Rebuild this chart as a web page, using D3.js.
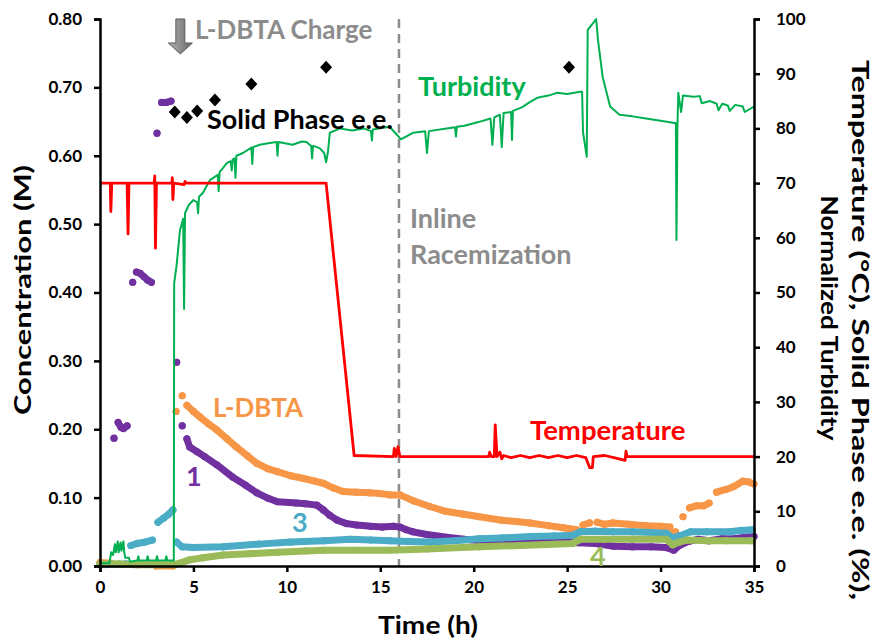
<!DOCTYPE html>
<html><head><meta charset="utf-8">
<script src="https://cdn.jsdelivr.net/npm/d3@7"></script>
<style>
body{margin:0;background:#fff;}
svg{display:block;font-family:Lato,"Open Sans",sans-serif;font-weight:bold;}
</style></head><body>
<svg id="c" width="881" height="641"></svg>
<script>
// ---------- DATA ----------
const xTicks = [0,5,10,15,20,25,30,35];
const yLeftTicks = [0,0.1,0.2,0.3,0.4,0.5,0.6,0.7,0.8];
const yRightTicks = [0,10,20,30,40,50,60,70,80,90,100];

// Solid phase e.e. (%) [time h, value]
const solidPhaseEE = [[4.0,83],[4.65,82],[5.2,83.2],[6.15,85.2],[8.1,88.1],[12.1,91.2],[25.1,91.2]];

// Temperature (°C)
const temperature = [[0,70],[0.55,70],[0.58,64.8],[0.63,70],[1.45,70],[1.5,60.7],[1.55,70],[2.9,70],[2.93,71.3],[2.97,58.1],[3.02,70],[3.85,70],[3.87,71],[3.9,67],[3.95,70],[4.5,69.7],[4.55,70.3],[4.6,70],[12.1,70],[13.6,20.2],[15.7,20],[15.75,21.5],[15.85,20],[15.95,21.8],[16.05,20],[20.8,20],[20.85,20.8],[20.95,20],[21.1,20],[21.15,25.8],[21.25,20],[21.4,20.8],[21.5,19.6],[21.6,20.2],[22,19.8],[22.5,20.2],[23,19.8],[23.5,20.2],[24,19.8],[24.5,20.2],[25,19.8],[25.5,20.2],[26,19.8],[26.2,18],[26.35,18],[26.4,20],[27,20.2],[27.5,19.8],[28.1,19.3],[28.15,21],[28.2,20],[35,20]];

// Normalized turbidity (%)
const turbidity = [[0,0.5],[0.5,0.5],[0.6,2.5],[0.7,2],[0.8,4],[0.85,2.5],[0.95,4.5],[1.0,2.5],[1.1,4.3],[1.15,2.8],[1.25,4.5],[1.3,2.5],[1.35,1.5],[1.55,1.5],[1.6,0.8],[2.0,1],[2.05,1.8],[2.1,1],[2.5,1],[2.55,1.8],[2.6,1],[3.0,1],[3.05,1.8],[3.1,1],[3.5,1],[3.55,1.8],[3.6,1],[3.95,1],[3.97,51.7],[4.1,55],[4.28,61.4],[4.45,63.5],[4.5,47],[4.55,64.5],[4.75,66],[5.0,66.9],[5.2,66.5],[5.25,64.5],[5.3,67.5],[5.5,68.2],[5.9,70.6],[6.3,71.5],[6.35,68.5],[6.4,72],[6.8,73.7],[7.0,74],[7.05,72.3],[7.1,74.3],[7.2,74.5],[7.25,71],[7.3,75],[7.65,75.5],[8.1,76.5],[8.15,73.5],[8.2,76.6],[8.55,77],[9.0,77.3],[9.45,77.5],[9.5,75],[9.55,77.5],[10.3,77],[10.8,77.6],[11.05,77.5],[11.3,76.8],[11.35,74.5],[11.4,76.8],[11.75,76.4],[12.0,75.5],[12.1,73.8],[12.2,75.7],[12.3,79.2],[12.85,80],[13.5,79.6],[14.1,80],[14.5,79.5],[14.55,77.8],[14.6,79.8],[15.5,80.3],[15.9,78.8],[16.1,78],[16.75,79.2],[17.4,79.5],[17.5,75.5],[17.6,79.5],[18.55,80],[19.0,80.2],[19.05,78.5],[19.1,80.3],[19.5,80.5],[20.3,81.2],[20.9,81.8],[21.0,77],[21.1,82],[21.4,82.5],[21.5,76.6],[21.6,82.8],[22.0,83],[22.05,77.9],[22.1,83.2],[22.6,83.9],[23.0,84.8],[23.4,85.6],[24.0,86],[24.45,86.5],[25.0,86.3],[25.7,86.7],[25.8,86.7],[25.85,79.3],[26.05,74.8],[26.1,98],[26.4,99.3],[26.55,100],[26.65,96.2],[26.9,89.4],[27.3,84],[27.8,82.5],[28.5,82.2],[29.05,81.9],[30,81.4],[30.75,81],[30.82,81],[30.85,59.6],[30.9,80],[30.95,86.5],[31.1,83],[31.2,86],[31.75,85.8],[32.1,85.9],[32.2,84.6],[32.65,85],[33,84.5],[33.1,83.3],[33.3,84.5],[33.6,84.2],[33.7,83.2],[34,84.3],[34.4,84],[34.5,83],[35,84]];

// Concentrations (M); null breaks a run of touching dots
const conc1 = [[0.75,0.187],null,[0.97,0.21],[1.12,0.203],[1.25,0.201],[1.45,0.205],null,[1.75,0.415],null,[1.95,0.43],[2.15,0.428],[2.35,0.423],[2.55,0.418],[2.75,0.415],null,[3.05,0.633],null,[3.3,0.678],[3.55,0.678],[3.8,0.68],null,[4.1,0.298],null,[4.4,0.205],null,[4.65,0.186],[4.8,0.174],[5.2,0.167],[5.6,0.16],[6.25,0.148],[7.1,0.13],[7.8,0.118],[8.4,0.107],[9.0,0.099],[9.5,0.094],[10.5,0.092],[11.0,0.091],[11.6,0.089],[11.95,0.082],[12.3,0.074],[12.7,0.067],[13.2,0.062],[13.75,0.06],[14.5,0.058],[15.1,0.057],[15.7,0.058],[16.05,0.057],[16.4,0.053],[16.75,0.05],[17.5,0.046],[18.55,0.042],[19.5,0.039],[20.3,0.037],[21.5,0.036],[22.5,0.036],[23.5,0.037],[24.5,0.037],[25.4,0.037],[25.6,0.034],[26.5,0.033],[27.5,0.029],[28.5,0.028],[29.5,0.028],[30.3,0.027],[30.7,0.023],[31.0,0.03],[31.5,0.036],[32.0,0.039],[32.6,0.037],[33.3,0.04],[34.0,0.04],[34.5,0.042],[35,0.043]];
const concLDBTA = [[0,0.005],[0.6,0.004],null,[3.0,0.0],[3.9,0.0],null,[4.07,0.226],null,[4.4,0.249],null,[4.65,0.235],[5.0,0.226],[5.35,0.218],[5.8,0.208],[6.25,0.199],[6.8,0.186],[7.3,0.174],[7.9,0.161],[8.4,0.15],[9.0,0.142],[9.5,0.138],[10.2,0.132],[10.9,0.128],[11.5,0.124],[11.95,0.121],[12.5,0.114],[13.0,0.109],[13.7,0.108],[14.45,0.107],[15.0,0.106],[15.5,0.104],[16.05,0.104],[16.8,0.095],[17.65,0.087],[18.5,0.08],[19.4,0.076],[20.3,0.072],[21.5,0.067],[22.3,0.065],[23.0,0.063],[24.0,0.059],[24.8,0.056],[25.5,0.053],null,[25.85,0.06],[26.2,0.063],null,[26.6,0.064],[27.0,0.061],[27.45,0.063],[28.3,0.061],[29.25,0.059],[30.0,0.058],[30.5,0.057],null,[30.65,0.048],[30.8,0.05],null,[31.2,0.072],null,[31.55,0.085],[31.9,0.088],[32.3,0.088],[32.6,0.092],null,[33.0,0.108],[33.5,0.112],[33.9,0.116],[34.4,0.124],[34.7,0.123],[35,0.12]];
const conc3 = [[0,0.002],[1.4,0.003],null,[1.65,0.03],[2.0,0.033],[2.4,0.035],[2.8,0.038],null,[3.1,0.064],[3.4,0.07],[3.65,0.075],[3.9,0.082],null,[4.1,0.035],[4.4,0.028],[5,0.027],[6.6,0.028],[8.5,0.032],[10.2,0.035],[12,0.037],[13.4,0.039],[14.5,0.038],[15.5,0.037],[16.5,0.036],[17.65,0.035],[19,0.037],[20.3,0.04],[21.5,0.041],[23,0.043],[24.3,0.044],[25.3,0.045],[25.7,0.05],[26.5,0.051],[27.45,0.05],[28.5,0.05],[29.5,0.049],[30.3,0.048],[30.65,0.041],[31.0,0.044],[31.6,0.05],[32.5,0.05],[33.7,0.05],[34.3,0.052],[34.9,0.053]];
const conc4 = [[0,0.003],[1,0.003],[2,0.002],[3,0.002],[4.0,0.002],[4.8,0.009],[5.5,0.012],[6.6,0.016],[8,0.018],[9.5,0.02],[11,0.022],[11.95,0.023],[13.5,0.023],[15.5,0.023],[17.5,0.025],[20.3,0.028],[22.5,0.03],[25.3,0.033],[25.7,0.039],[27,0.039],[28.5,0.039],[30.3,0.039],[30.65,0.031],[31.0,0.035],[31.4,0.038],[32.5,0.037],[33.5,0.037],[34.9,0.037]];

const racemizationTime = 16;
const chargeTime = 4.3;

// ---------- CHART ----------
const svg = d3.select("#c");
const x = d3.scaleLinear().domain([0,35]).range([100,754]);
const yL = d3.scaleLinear().domain([0,0.8]).range([566,19]);
const yR = d3.scaleLinear().domain([0,100]).range([566,19]);

const C = {p:"#7030a0", o:"#f79646", t:"#4bacc6", g:"#9bbb59", red:"#ff0000", turb:"#00b050", gray:"#808080"};

// dashed line
svg.append("line").attr("x1",x(racemizationTime)).attr("x2",x(racemizationTime))
  .attr("y1",yL(0.8)).attr("y2",yL(0)).attr("stroke","#8c8c8c").attr("stroke-width",2.5)
  .attr("stroke-dasharray","9,6");

// concentration series
function concSeries(data,color){
  const line = d3.line().defined(d=>d!==null).x(d=>x(d[0])).y(d=>yL(d[1]));
  svg.append("path").attr("d",line(data)).attr("fill","none").attr("stroke",color)
    .attr("stroke-width",7).attr("stroke-linecap","round").attr("stroke-linejoin","round");
  svg.append("g").selectAll("circle").data(data.filter(d=>d!==null)).join("circle")
    .attr("cx",d=>x(d[0])).attr("cy",d=>yL(d[1])).attr("r",3.6).attr("fill",color);
}
concSeries(conc1,C.p);
concSeries(concLDBTA,C.o);
concSeries(conc3,C.t);
concSeries(conc4,C.g);

// turbidity
const lineR = d3.line().x(d=>x(d[0])).y(d=>yR(d[1]));
svg.append("path").attr("d",lineR(turbidity)).attr("fill","none").attr("stroke",C.turb)
  .attr("stroke-width",2).attr("stroke-linejoin","round");
// temperature
svg.append("path").attr("d",lineR(temperature)).attr("fill","none").attr("stroke",C.red)
  .attr("stroke-width",2.8).attr("stroke-linejoin","round");

// diamonds
svg.append("g").selectAll("path").data(solidPhaseEE).join("path")
  .attr("d","M0,-6.5L6,0L0,6.5L-6,0Z")
  .attr("transform",d=>`translate(${x(d[0])},${yR(d[1])})`).attr("fill","#000");

// axes
const axL = svg.append("g").attr("transform","translate(100,0)")
  .call(d3.axisLeft(yL).tickValues(yLeftTicks).tickFormat(d3.format(".2f")).tickSize(6).tickPadding(12));
const axR = svg.append("g").attr("transform","translate(754,0)")
  .call(d3.axisRight(yR).tickValues(yRightTicks).tickFormat(d3.format("d")).tickSize(6).tickPadding(14));
const axB = svg.append("g").attr("transform","translate(0,566)")
  .call(d3.axisBottom(x).tickValues(xTicks).tickSize(6).tickPadding(9));
[axL,axR,axB].forEach(a=>{
  a.select(".domain").attr("stroke","#000").attr("stroke-width",2.5);
  a.selectAll(".tick line").attr("stroke","#000").attr("stroke-width",2.5);
  a.selectAll(".tick text").attr("font-size",17).attr("font-family","Lato,'Open Sans',sans-serif")
   .attr("font-weight","bold").attr("fill","#000");
});
axR.selectAll(".tick text").attr("text-anchor","start").attr("x",22);

// axis titles
function title(t, tx, ty, rot, size, len){
  return svg.append("text").attr("text-anchor","middle").attr("font-size",size)
    .attr("textLength",len).attr("lengthAdjust","spacingAndGlyphs")
    .attr("transform",`translate(${tx},${ty}) rotate(${rot})`).text(t);
}
title("Concentration (M)", 31, 290, -90, 23, 250);
title("Time (h)", 428, 634, 0, 24, 100);
title("Temperature (°C), Solid Phase e.e. (%),", 852, 330, 90, 23, 540);
title("Normalized Turbidity", 821, 318, 90, 23, 245);

// arrow
const ax = x(chargeTime);
const defs = svg.append("defs");
const gr = defs.append("linearGradient").attr("id","ag").attr("x1",0).attr("x2",1);
gr.append("stop").attr("offset","0").attr("stop-color","#b0b0b0");
gr.append("stop").attr("offset","1").attr("stop-color","#6a6a6a");
svg.append("path").attr("d",`M${ax-4.5},19L${ax+4.5},19L${ax+4.5},43L${ax+12},43L${ax},54L${ax-12},43L${ax-4.5},43Z`)
  .attr("fill","url(#ag)").attr("stroke","#5a5a5a").attr("stroke-width",1);

// annotations
function label(t,xx,yy,color,size){
  return svg.append("text").attr("x",xx).attr("y",yy).attr("fill",color).attr("font-size",size).text(t);
}
label("L-DBTA Charge",195,39,"#8c8c8c",26);
label("Solid Phase e.e.",207,129,"#000",27);
label("Turbidity",418,96,C.turb,27);
label("Inline",410,228,"#8c8c8c",27);
label("Racemization",410,264,"#8c8c8c",27);
label("L-DBTA",213,417,C.o,26);
label("1",186,486,C.p,27);
label("3",292,532,C.t,27);
label("4",590,566,C.g,27);
label("Temperature",530,440,C.red,27.5);
</script>
</body></html>
